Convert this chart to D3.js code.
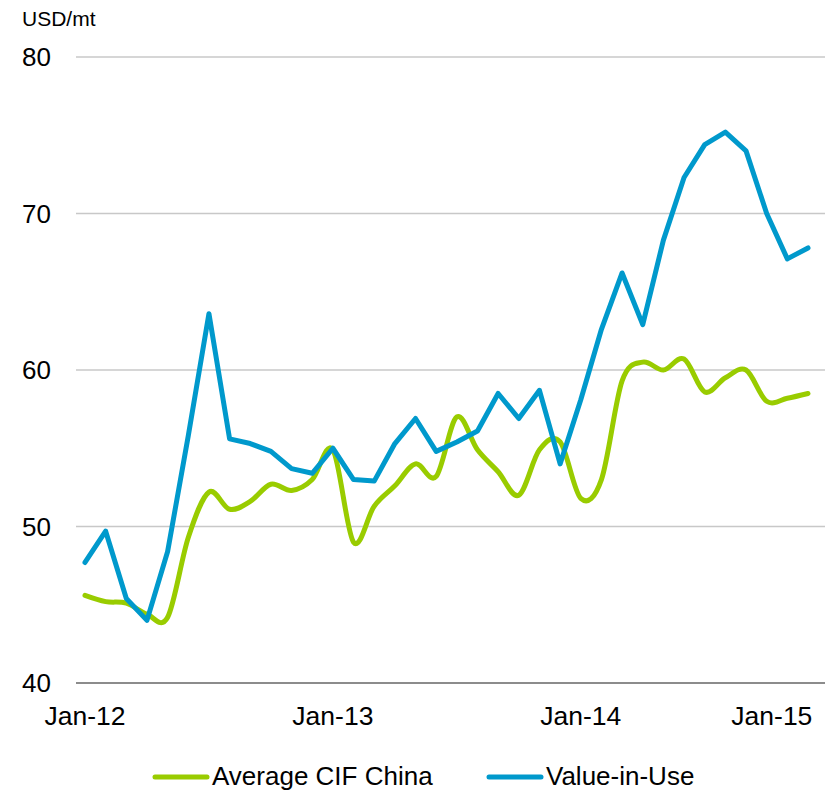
<!DOCTYPE html>
<html>
<head>
<meta charset="utf-8">
<script src="https://cdn.jsdelivr.net/npm/d3@7"></script>
<style>
  html, body { margin: 0; padding: 0; background: #fff; }
  svg { display: block; }
  .lbl { font-family: "Liberation Sans", Arial, sans-serif; fill: #000; }
</style>
</head>
<body>
<svg id="chart" width="825" height="791"></svg>
<script>
// Monthly series, Jan-12 .. Dec-14 (USD/mt)
const avgCifChina = [
  45.6, 45.2, 45.1, 44.4, 44.2, 49.3, 52.2, 51.1, 51.6, 52.7, 52.3, 53.0,
  54.9, 49.0, 51.3, 52.6, 54.0, 53.2, 57.0, 54.9, 53.5, 52.0, 54.9, 55.4,
  51.8, 53.0, 59.3, 60.5, 60.0, 60.7, 58.6, 59.5, 60.0, 58.0, 58.2, 58.5
];
const valueInUse = [
  47.7, 49.7, 45.4, 44.0, 48.4, 55.8, 63.6, 55.6, 55.3, 54.8, 53.7, 53.4,
  55.0, 53.0, 52.9, 55.3, 56.9, 54.8, 55.4, 56.1, 58.5, 56.9, 58.7, 54.0,
  58.1, 62.6, 66.2, 62.9, 68.3, 72.3, 74.4, 75.2, 74.0, 70.0, 67.1, 67.8
];
const xTickMonths = [0, 12, 24, 33.25];
const xTickLabels = ["Jan-12", "Jan-13", "Jan-14", "Jan-15"];
const yTicks = [40, 50, 60, 70, 80];
const seriesNames = ["Average CIF China", "Value-in-Use"];
const seriesColors = ["#99CC00", "#0099CC"];

const svg = d3.select("#chart");

const x = d3.scaleLinear().domain([0, valueInUse.length - 1]).range([85, 808]);
const y = d3.scaleLinear().domain([40, 80]).range([683, 57]);

// horizontal gridlines
svg.append("g")
  .selectAll("line")
  .data(yTicks)
  .join("line")
  .attr("x1", 76).attr("x2", 825)
  .attr("y1", d => y(d)).attr("y2", d => y(d))
  .attr("stroke", d => d === 40 ? "#8c8c8c" : "#c8c8c8")
  .attr("stroke-width", d => d === 40 ? 2 : 1.5);

// y axis labels
svg.append("g")
  .selectAll("text")
  .data(yTicks)
  .join("text")
  .attr("class", "lbl")
  .attr("x", 51)
  .attr("y", d => y(d))
  .attr("dy", "0.36em")
  .attr("text-anchor", "end")
  .attr("font-size", 26)
  .text(d => d);

svg.append("text")
  .attr("class", "lbl")
  .attr("x", 22).attr("y", 26)
  .attr("font-size", 21)
  .text("USD/mt");

// x axis labels
svg.append("g")
  .selectAll("text")
  .data(xTickMonths)
  .join("text")
  .attr("class", "lbl")
  .attr("x", d => x(d))
  .attr("y", 725)
  .attr("text-anchor", "middle")
  .attr("font-size", 26.5)
  .text((d, i) => xTickLabels[i]);

// series lines
const smooth = d3.line()
  .x((d, i) => x(i)).y(d => y(d))
  .curve(d3.curveCardinal.tension(0));
const straight = d3.line()
  .x((d, i) => x(i)).y(d => y(d));

svg.append("path")
  .datum(avgCifChina)
  .attr("d", smooth)
  .attr("fill", "none")
  .attr("stroke", seriesColors[0])
  .attr("stroke-width", 5)
  .attr("stroke-linecap", "round")
  .attr("stroke-linejoin", "round");

svg.append("path")
  .datum(valueInUse)
  .attr("d", straight)
  .attr("fill", "none")
  .attr("stroke", seriesColors[1])
  .attr("stroke-width", 5)
  .attr("stroke-linecap", "round")
  .attr("stroke-linejoin", "round");

// legend
const legendX = [155, 489];
const lg = svg.append("g").selectAll("g")
  .data(seriesNames)
  .join("g")
  .attr("transform", (d, i) => `translate(${legendX[i]},777)`);
lg.append("line")
  .attr("x1", 0).attr("x2", 52).attr("y1", 0).attr("y2", 0)
  .attr("stroke", (d, i) => seriesColors[i])
  .attr("stroke-width", 5)
  .attr("stroke-linecap", "round");
lg.append("text")
  .attr("class", "lbl")
  .attr("x", 57).attr("y", 8)
  .attr("font-size", 26)
  .text(d => d);
</script>
</body>
</html>
